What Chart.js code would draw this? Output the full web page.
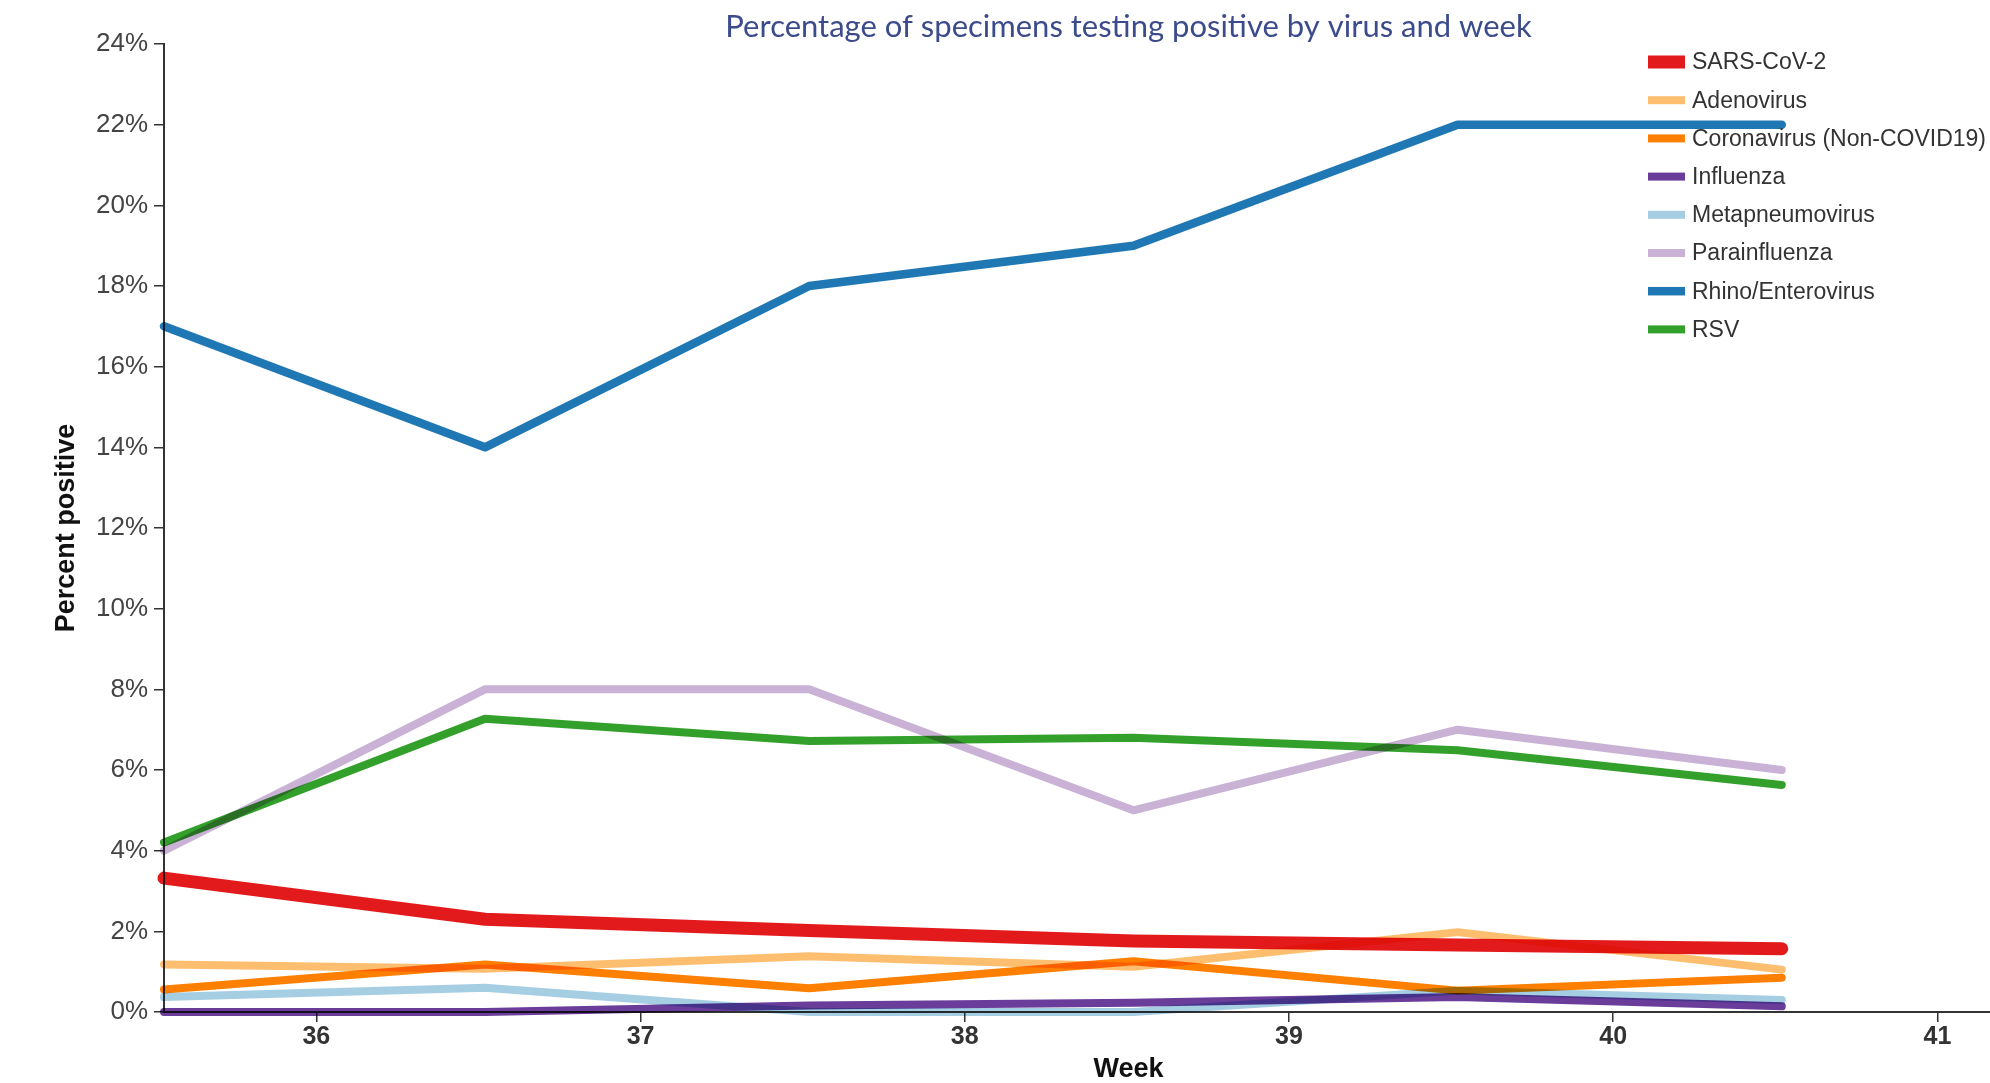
<!DOCTYPE html>
<html>
<head>
<meta charset="utf-8">
<script src="https://cdn.jsdelivr.net/npm/chart.js@4.4.1/dist/chart.umd.min.js"></script>
<style>
  html, body { margin: 0; padding: 0; background: #ffffff; overflow: hidden; }
  #wrap { position: relative; width: 1990px; height: 1083px; overflow: hidden; background: #fff; }
  #edge { position: absolute; left: 7px; top: 11px; width: 1px; bottom: 0; background: #e4e4e4; }
  #c { position: absolute; left: 0; top: 0; }
</style>
</head>
<body>
<div id="wrap">
  <div id="edge"></div>
  <canvas id="c" width="2100" height="1083"></canvas>
</div>
<script>
// ---- data ----
const chartTitle = "Percentage of specimens testing positive by virus and week";
const xAxisTitle = "Week";
const yAxisTitle = "Percent positive";
const weeks = [35.53, 36.52, 37.52, 38.52, 39.52, 40.52];
const xTickValues = [36, 37, 38, 39, 40, 41];
const yTickValues = [0, 2, 4, 6, 8, 10, 12, 14, 16, 18, 20, 22, 24];
const seriesNames = ["SARS-CoV-2", "Adenovirus", "Coronavirus (Non-COVID19)", "Influenza",
                     "Metapneumovirus", "Parainfluenza", "Rhino/Enterovirus", "RSV"];
const sarsCov2       = [3.32, 2.3, 2.02, 1.76, 1.66, 1.57];
const adenovirus     = [1.18, 1.07, 1.38, 1.12, 1.98, 1.05];
const coronavirus    = [0.56, 1.18, 0.59, 1.26, 0.53, 0.85];
const influenza      = [0.0, 0.0, 0.16, 0.23, 0.37, 0.14];
const metapneumovirus= [0.37, 0.6, 0.0, 0.0, 0.53, 0.3];
const parainfluenza  = [4.0, 8.0, 8.0, 5.0, 7.0, 6.0];
const rhinoEntero    = [17.0, 14.0, 18.0, 19.0, 22.0, 22.0];
const rsv            = [4.2, 7.27, 6.72, 6.8, 6.49, 5.63];
const seriesValues = [sarsCov2, adenovirus, coronavirus, influenza, metapneumovirus, parainfluenza, rhinoEntero, rsv];

// ---- styles ----
const seriesColors = ["#e31a1c", "#fdbf6f", "#ff7f00", "#6a3d9a", "#a6cee3", "#cab2d6", "#1f78b4", "#33a02c"];
const seriesWidths = [13, 8, 8, 8, 8, 8, 8.5, 8];

const datasets = seriesNames.map((name, i) => ({
  label: name,
  data: weeks.map((w, j) => ({ x: w, y: seriesValues[i][j] })),
  borderColor: seriesColors[i],
  backgroundColor: seriesColors[i],
  borderWidth: seriesWidths[i],
  borderCapStyle: 'round',
  borderJoinStyle: 'round',
  pointRadius: 0,
  pointHoverRadius: 0,
  tension: 0,
  fill: false,
  clip: 10
}));

const multiplyPlugin = {
  id: 'multiplyBlend',
  beforeDraw(chart) {
    const ctx = chart.ctx;
    ctx.save();
    ctx.fillStyle = '#ffffff';
    ctx.fillRect(0, 0, chart.width, chart.height);
    ctx.restore();
  },
  beforeDatasetDraw(chart) {
    chart.ctx.save();
    chart.ctx.globalCompositeOperation = 'multiply';
  },
  afterDatasetDraw(chart) {
    chart.ctx.restore();
  }
};

const overlayPlugin = {
  id: 'titleLegend',
  afterDraw(chart) {
    const ctx = chart.ctx;
    const ca = chart.chartArea;
    ctx.save();
    // title
    ctx.fillStyle = '#3c4b8b';
    ctx.font = '31px Lato, "Open Sans", sans-serif';
    ctx.textAlign = 'center';
    ctx.textBaseline = 'alphabetic';
    ctx.fillText(chartTitle, (ca.left + ca.right) / 2, 37);
    // legend
    ctx.textAlign = 'left';
    ctx.textBaseline = 'middle';
    ctx.font = '23px "Liberation Sans", Arial, sans-serif';
    chart.data.datasets.forEach((ds, i) => {
      const cy = 62 + i * 38.2;
      const h = ds.borderWidth;
      ctx.fillStyle = ds.borderColor;
      ctx.fillRect(1648, cy - h / 2, 37, h);
      ctx.fillStyle = '#333333';
      ctx.fillText(ds.label, 1692, cy + 1);
    });
    ctx.restore();
  }
};

new Chart(document.getElementById('c'), {
  type: 'line',
  data: { datasets },
  options: {
    responsive: false,
    animation: false,
    devicePixelRatio: 1,
    layout: { padding: { top: 44, left: 0, right: 7, bottom: 0 } },
    plugins: {
      legend: { display: false },
      title: { display: false },
      tooltip: { enabled: false }
    },
    events: [],
    scales: {
      x: {
        type: 'linear',
        min: 35.53,
        max: 41.48,
        afterBuildTicks: (scale) => { scale.ticks = xTickValues.map(v => ({ value: v })); },
        afterFit: (scale) => { scale.height = 71; },
        ticks: {
          color: '#333333',
          font: { family: '"Liberation Sans", Arial, sans-serif', size: 25, weight: 'bold' },
          padding: 0,
          maxRotation: 0,
          autoSkip: false
        },
        grid: { display: true, drawOnChartArea: false, drawTicks: true, tickLength: 10, color: '#333333', lineWidth: 1.5 },
        border: { display: true, color: '#333333', width: 2 },
        title: {
          display: true,
          text: xAxisTitle,
          color: '#111111',
          font: { family: '"Liberation Sans", Arial, sans-serif', size: 27, weight: 'bold', lineHeight: 1 },
          padding: { top: 0, bottom: 0 }
        }
      },
      y: {
        type: 'linear',
        min: 0,
        max: 24,
        afterBuildTicks: (scale) => { scale.ticks = yTickValues.map(v => ({ value: v })); },
        afterFit: (scale) => { scale.width = 164; },
        ticks: {
          color: '#444444',
          font: { family: '"Liberation Sans", Arial, sans-serif', size: 26 },
          padding: 6,
          callback: (v) => v + '%'
        },
        grid: { display: true, drawOnChartArea: false, drawTicks: true, tickLength: 10, color: '#333333', lineWidth: 1.5 },
        border: { display: true, color: '#333333', width: 2 },
        title: {
          display: true,
          text: yAxisTitle,
          color: '#111111',
          font: { family: '"Liberation Sans", Arial, sans-serif', size: 27, weight: 'bold', lineHeight: 1 },
          padding: { top: 53, bottom: 0 }
        }
      }
    }
  },
  plugins: [multiplyPlugin, overlayPlugin]
});
</script>
</body>
</html>
